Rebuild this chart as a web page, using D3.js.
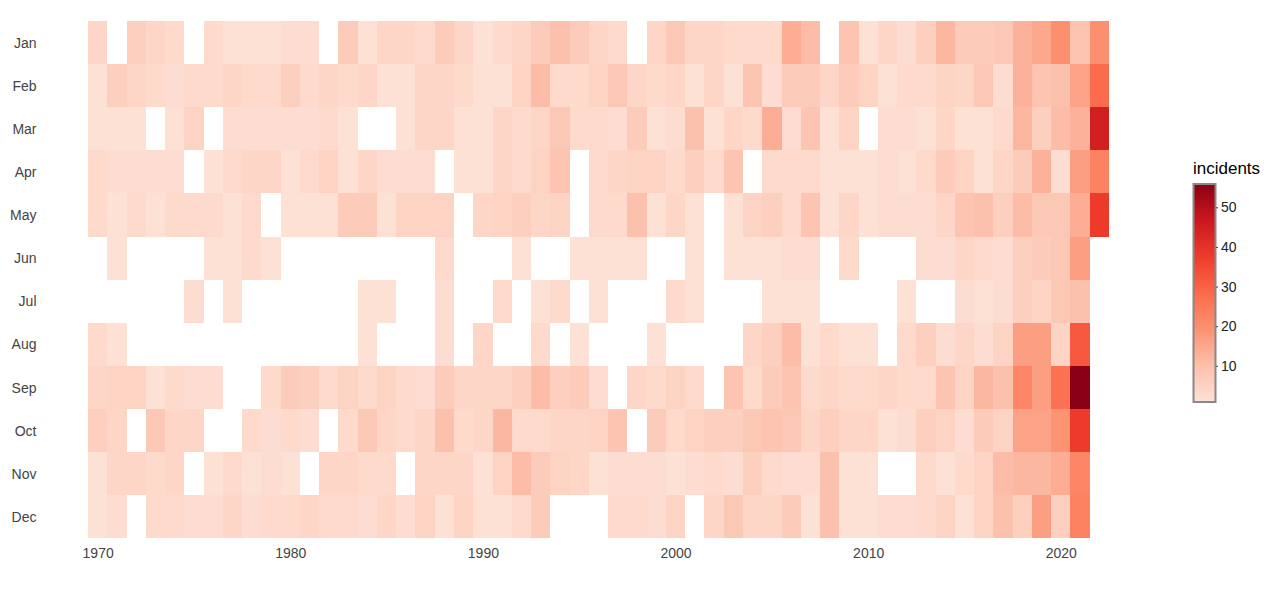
<!DOCTYPE html>
<html>
<head>
<meta charset="utf-8">
<script src="https://cdn.jsdelivr.net/npm/d3@7/dist/d3.min.js"></script>
<style>
html,body{margin:0;padding:0;background:#fff;}
svg{display:block;font-family:"Liberation Sans",Arial,sans-serif;}
</style>
</head>
<body>
<svg id="chart" width="1275" height="589"></svg>
<script>
const n = null;
const monthNames = ["Jan","Feb","Mar","Apr","May","Jun","Jul","Aug","Sep","Oct","Nov","Dec"];
const years = d3.range(1970, 2023);
const yearTicks = [1970,1980,1990,2000,2010,2020];
const legendTicks = [10,20,30,40,50];

const jan = [4,n,6,4,3, n,3,1,1,1, 2,2,n,7,1, 4,4,3,7,4, 1,3,4,7,10, 7,4,3,n,4, 8,4,4,3,3, 3,14,11,n,9, 1,4,2,6,12, 7,7,8,13,15, 20,9,20];
const feb = [1,6,4,3,2, 3,3,4,3,3, 6,3,4,3,4, 1,1,4,4,3, 1,1,5,11,3, 3,5,8,4,3, 4,1,4,1,9, 2,7,7,4,7, 5,1,3,3,5, 4,8,2,13,9, 10,16,28];
const mar = [1,1,1,n,1, 5,n,2,2,2, 2,2,3,1,n, n,1,4,4,1, 1,4,3,4,8, 3,3,2,7,1, 2,10,1,4,3, 14,2,9,1,5, n,2,2,1,4, 1,1,3,12,6, 11,13,45];
const apr = [3,2,2,2,2, n,1,3,4,4, 1,3,5,1,4, 2,2,2,n,1, 1,4,3,5,9, n,3,4,5,5, 3,6,3,9,n, 3,3,3,1,1, 1,2,1,3,7, 5,1,4,7,13, 2,17,23];
const may = [3,1,3,1,3, 3,3,1,3,n, 1,1,1,7,7, 1,5,5,5,n, 4,5,6,4,5, n,3,3,10,1, 4,1,n,1,5, 6,3,9,1,4, 1,2,2,2,4, 9,10,6,11,8, 8,14,38];
const jun = [n,1,n,n,n, n,1,1,3,1, n,n,n,n,n, n,n,n,3,n, n,n,1,n,n, 1,1,1,1,n, n,1,n,1,1, 1,2,2,n,3, n,n,n,2,2, 4,3,2,6,7, 8,17,n];
const jul = [n,n,n,n,n, 2,n,1,n,n, n,n,n,n,1, 1,n,n,2,n, n,3,n,1,3, n,1,n,n,n, 3,1,n,n,n, 1,1,1,n,n, n,n,1,n,n, 2,1,2,6,5, 8,10,n];
const aug = [3,1,n,n,n, n,n,n,n,n, n,n,n,n,1, n,n,n,2,n, 4,n,n,3,n, 1,n,n,n,1, n,n,n,n,4, 6,11,1,3,1, 1,n,3,6,2, 4,2,5,17,17, 5,32,n];
const sep = [4,5,5,1,3, 2,2,n,n,3, 7,6,3,5,3, 5,3,2,7,4, 4,4,6,11,6, 7,2,n,4,3, 5,3,n,9,3, 7,9,3,4,3, 3,4,3,3,9, 5,12,10,22,17, 27,56,n];
const oct = [6,4,n,8,4, 4,n,n,3,2, 3,2,n,3,8, 4,3,4,10,3, 4,12,3,3,4, 4,5,9,n,7, 3,5,6,6,8, 9,8,4,6,4, 4,1,2,6,5, 2,7,5,16,16, 19,38,n];
const nov = [1,4,4,3,4, n,1,3,1,2, 1,n,4,4,3, 3,n,4,4,4, 1,5,11,7,5, 4,1,2,2,2, 1,2,3,2,6, 3,2,2,10,1, 1,n,n,3,1, 3,5,11,12,12, 14,22,n];
const dec = [1,2,n,3,3, 2,2,4,2,3, 3,4,3,3,2, 4,2,5,1,5, 1,1,3,7,n, n,n,3,3,2, 5,n,4,8,4, 4,7,1,10,1, 1,2,2,3,5, 1,5,10,6,17, 6,23,n];
const monthValues = [jan,feb,mar,apr,may,jun,jul,aug,sep,oct,nov,dec];

const rampColors = ["#fde1d5","#fcc0ac","#fc9272","#fb6a4a","#ef3b2c","#cb181d","#8b0014"];
const vMin = 1, vMax = 56;
const colorStops = d3.range(rampColors.length).map(i => vMin + (vMax - vMin) * i / (rampColors.length - 1));
const color = d3.scaleLinear().domain(colorStops).range(rampColors).interpolate(d3.interpolateRgb);

const x = d3.scaleBand().domain(years).range([88,1109]).paddingInner(0).paddingOuter(0);
const y = d3.scaleBand().domain(monthNames).range([21,538.3]).paddingInner(0).paddingOuter(0);

const svg = d3.select("#chart");

const cells = [];
monthValues.forEach((vals,m) => vals.forEach((v,i) => { if (v !== null) cells.push({year:years[i], month:monthNames[m], v}); }));

svg.append("g").selectAll("rect").data(cells).join("rect")
  .attr("x", d => x(d.year))
  .attr("y", d => y(d.month))
  .attr("width", x.bandwidth())
  .attr("height", y.bandwidth())
  .attr("fill", d => color(d.v))
  .attr("shape-rendering","crispEdges");

const xAxis = svg.append("g").attr("transform","translate(0.5,538.3)")
  .call(d3.axisBottom(x).tickValues(yearTicks).tickSize(0).tickPadding(10).tickFormat(d3.format("d")));
xAxis.select(".domain").remove();
xAxis.selectAll("text").attr("font-size",14).attr("fill","#444").attr("font-family",'"Liberation Sans",Arial,sans-serif');

const yAxis = svg.append("g").attr("transform","translate(36.5,0.6)")
  .call(d3.axisLeft(y).tickSize(0).tickPadding(0));
yAxis.select(".domain").remove();
yAxis.selectAll("text").attr("font-size",14).attr("fill","#444").attr("font-family",'"Liberation Sans",Arial,sans-serif');

// legend
const defs = svg.append("defs");
const grad = defs.append("linearGradient").attr("id","ramp").attr("x1",0).attr("x2",0).attr("y1",1).attr("y2",0);
grad.selectAll("stop").data(colorStops).join("stop")
  .attr("offset", d => (d - vMin)/(vMax - vMin))
  .attr("stop-color", d => color(d));

const legendY = d3.scaleLinear().domain([vMin,vMax]).range([402,184]);
svg.append("text").attr("x",1193).attr("y",174).attr("font-size",17).attr("fill","#000").text("incidents");
svg.append("rect").attr("x",1193.5).attr("y",184).attr("width",22).attr("height",218)
  .attr("fill","url(#ramp)").attr("stroke","#888").attr("stroke-width",2);
const legendAxis = svg.append("g").attr("transform","translate(1216,-0.5)")
  .call(d3.axisRight(legendY).tickValues(legendTicks).tickSize(2).tickPadding(3));
legendAxis.select(".domain").remove();
legendAxis.selectAll("line").attr("stroke","#444");
legendAxis.selectAll("text").attr("font-size",14).attr("fill","#222").attr("font-family",'"Liberation Sans",Arial,sans-serif');
</script>
</body>
</html>
